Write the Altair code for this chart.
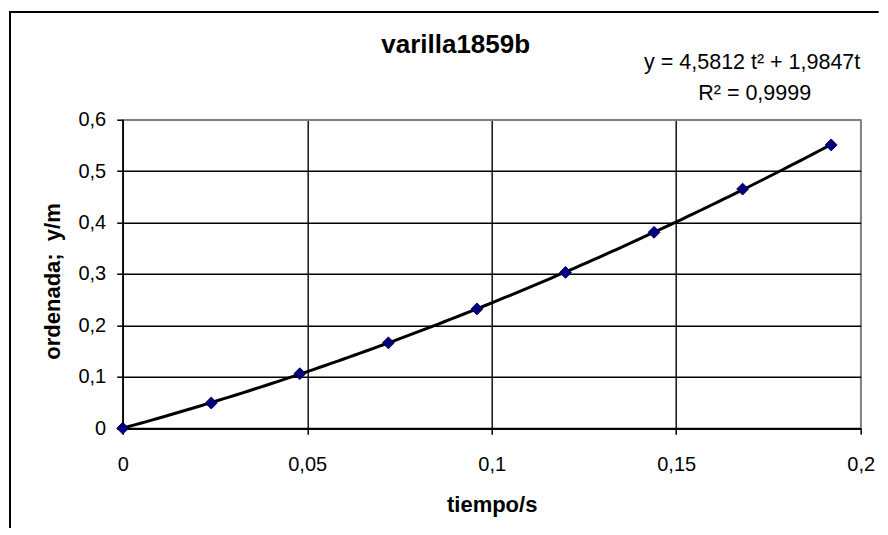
import altair as alt
import numpy as np
import pandas as pd

# data
t_vals = [0.0, 0.024, 0.048, 0.072, 0.096, 0.120, 0.144, 0.168, 0.192]
y_vals = [0.0, 0.049, 0.106, 0.166, 0.232, 0.303, 0.381, 0.465, 0.551]
x_ticks = [0, 0.05, 0.1, 0.15, 0.2]
y_ticks = [0, 0.1, 0.2, 0.3, 0.4, 0.5, 0.6]
title_text = "varilla1859b"
eq_line1 = "y = 4,5812 t\u00b2 + 1,9847t"
eq_line2 = "R\u00b2 = 0,9999"
x_title = "tiempo/s"
y_title = "ordenada;\u00a0\u00a0y/m"

df = pd.DataFrame({"t": t_vals, "y": y_vals})

# polynomial trendline (order 2, through origin) fitted to the read data
t_arr = np.array(t_vals)
y_arr = np.array(y_vals)
A = np.column_stack([t_arr ** 2, t_arr])
coef, *_ = np.linalg.lstsq(A, y_arr, rcond=None)
t_fit = np.linspace(t_arr.min(), t_arr.max(), 120)
fit_df = pd.DataFrame({"t": t_fit, "y": coef[0] * t_fit ** 2 + coef[1] * t_fit})

FONT = "Liberation Sans"
W, H = 738, 308.5
PAD_L, PAD_T, PAD_R, PAD_B = 114.7, 111.7, 18, 100

comma = "replace(format(datum.value, '~g'), '.', ',')"

xscale = alt.Scale(domain=[0, 0.2], nice=False, zero=False)
yscale = alt.Scale(domain=[0, 0.6], nice=False)

xaxis = alt.Axis(
    values=x_ticks, labelExpr=comma, title=x_title, labelFlush=False,
    gridColor={"condition": {"test": "datum.value >= 0.2", "value": "#808080"}, "value": "black"},
    labelPadding=20, titlePadding=20,
)
yaxis = alt.Axis(
    values=y_ticks, labelExpr=comma, title=y_title, labelFlush=False,
    gridColor={"condition": {"test": "datum.value >= 0.6", "value": "#808080"}, "value": "black"},
    labelPadding=11, titlePadding=13, titleY=H / 2 + 7,
)

trend = alt.Chart(fit_df).mark_line(
    color="black", strokeWidth=3
).encode(
    x=alt.X("t:Q", scale=xscale, axis=xaxis),
    y=alt.Y("y:Q", scale=yscale, axis=yaxis),
)

points = alt.Chart(df).mark_point(
    shape="diamond", filled=True, size=140, color="#000080",
    stroke="#00004d", strokeWidth=1, opacity=1,
).encode(
    x=alt.X("t:Q", scale=xscale),
    y=alt.Y("y:Q", scale=yscale),
)

text_df = pd.DataFrame({"label": [title_text]})
title_mark = alt.Chart(text_df).mark_text(
    font=FONT, fontSize=26, fontWeight="bold", color="black",
    align="center", baseline="middle",
).encode(x=alt.value(333), y=alt.value(-75), text="label:N")

eq_df1 = pd.DataFrame({"label": [eq_line1]})
eq_df2 = pd.DataFrame({"label": [eq_line2]})
eq1 = alt.Chart(eq_df1).mark_text(
    font=FONT, fontSize=21.5, color="black", align="center", baseline="alphabetic",
).encode(x=alt.value(629.5), y=alt.value(-51), text="label:N")
eq2 = alt.Chart(eq_df2).mark_text(
    font=FONT, fontSize=21.5, color="black", align="center", baseline="alphabetic",
).encode(x=alt.value(632), y=alt.value(-20), text="label:N")

frame_left = alt.Chart(text_df).mark_rule(color="black", strokeWidth=2).encode(
    x=alt.value(-112.7), y=alt.value(-108), y2=alt.value(H + PAD_B)
)
frame_top = alt.Chart(text_df).mark_rule(color="black", strokeWidth=2).encode(
    x=alt.value(-113.7), x2=alt.value(W + PAD_R), y=alt.value(-107.7)
)

chart = alt.layer(trend, points, title_mark, eq1, eq2, frame_left, frame_top).properties(
    width=W, height=H,
    autosize=alt.AutoSizeParams(type="none"),
    padding={"left": PAD_L, "top": PAD_T, "right": PAD_R, "bottom": PAD_B},
    background="white",
).configure_view(
    stroke="#808080", strokeWidth=1.5
).configure_axis(
    domainColor="black", domainWidth=1.5,
    tickColor="black", tickWidth=1.5, tickSize=6,
    gridWidth=1.4,
    labelFont=FONT, labelFontSize=20, labelColor="black",
    titleFont=FONT, titleFontSize=22, titleFontWeight="bold", titleColor="black",
)

chart.save("out.html", embed_options={"renderer": "svg", "actions": False})
